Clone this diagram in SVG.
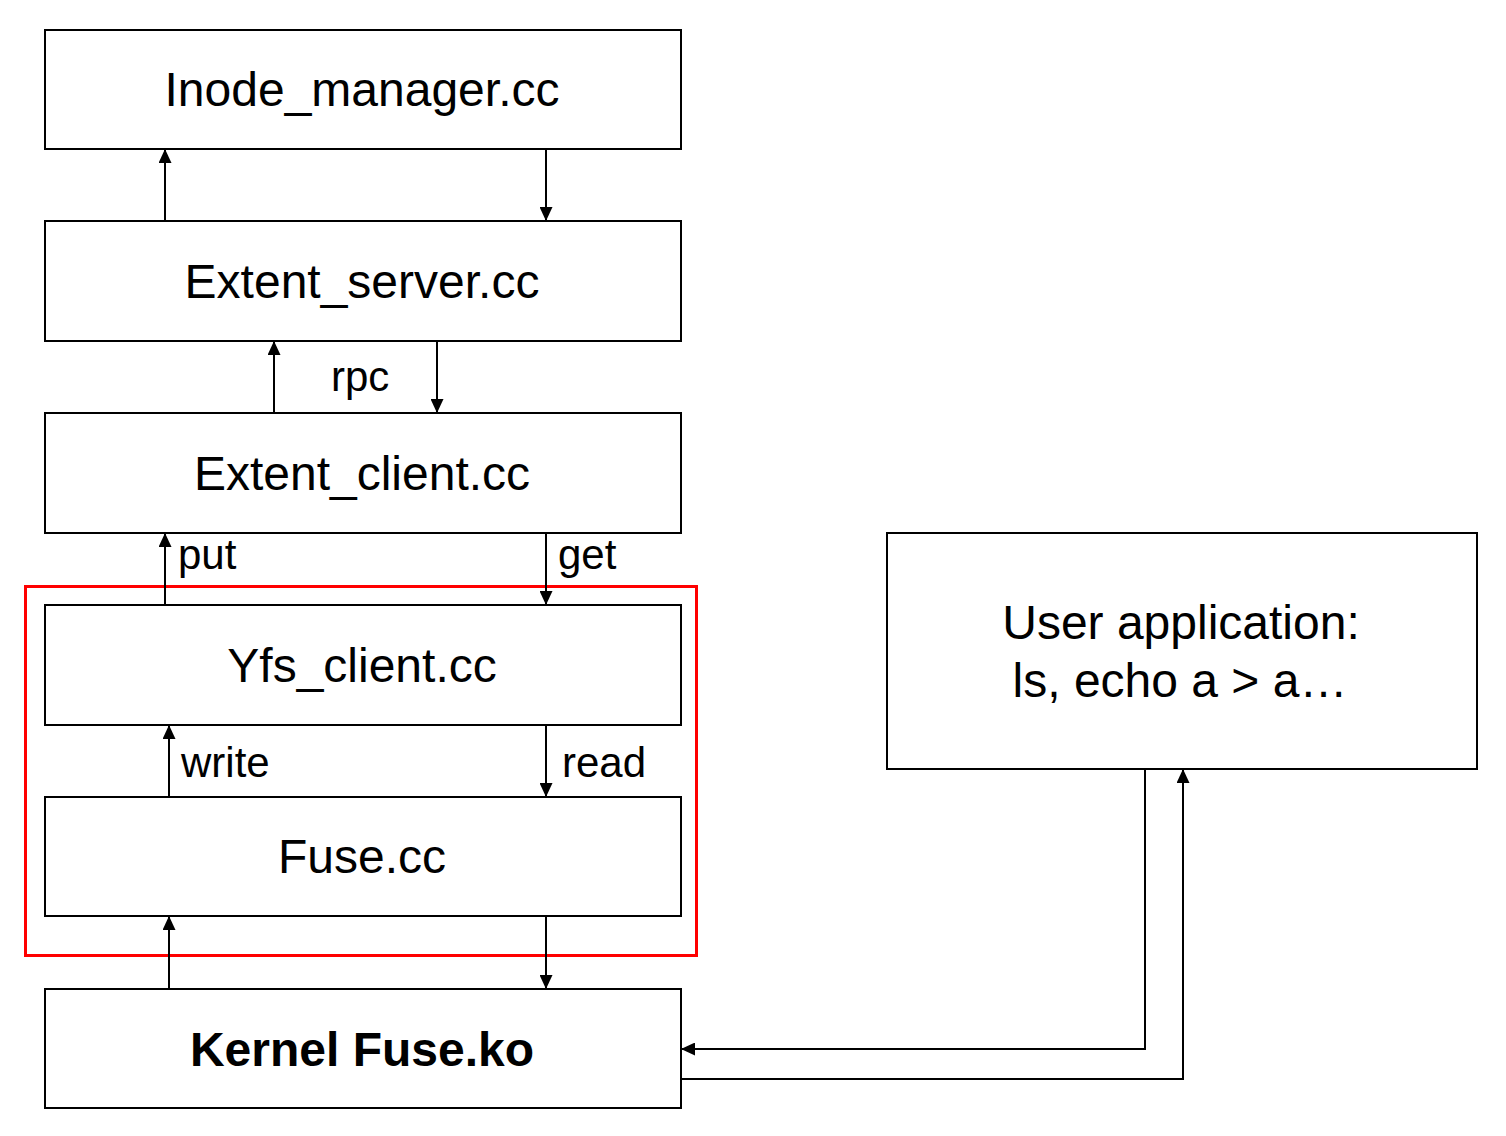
<svg xmlns="http://www.w3.org/2000/svg" width="1506" height="1136" viewBox="0 0 1506 1136">
<defs>
<marker id="arr" markerUnits="userSpaceOnUse" markerWidth="15" markerHeight="13" refX="14" refY="6.5" orient="auto">
<path d="M0,0 L14,6.5 L0,13 Z" fill="#000"/>
</marker>
<style>
.box{fill:#fff;stroke:#000;stroke-width:2}
.t{font-family:"Liberation Sans",Arial,sans-serif;font-size:48px;fill:#000;text-anchor:middle}
.b{font-weight:bold}
.lbl{font-family:"Liberation Sans",Arial,sans-serif;font-size:42px;fill:#000}
.c{fill:none;stroke:#000;stroke-width:2;marker-end:url(#arr)}
</style>
</defs>
<rect width="1506" height="1136" fill="#fff"/>
<g id="inode"><rect class="box" x="45" y="30" width="636" height="119"/><text class="t" x="362" y="106">Inode_manager.cc</text></g>
<g id="extent_server"><rect class="box" x="45" y="221" width="636" height="120"/><text class="t" x="362" y="298">Extent_server.cc</text></g>
<g id="extent_client"><rect class="box" x="45" y="413" width="636" height="120"/><text class="t" x="362" y="490">Extent_client.cc</text></g>
<g id="yfs_client"><rect class="box" x="45" y="605" width="636" height="120"/><text class="t" x="362" y="682">Yfs_client.cc</text></g>
<g id="fuse"><rect class="box" x="45" y="797" width="636" height="119"/><text class="t" x="362" y="873">Fuse.cc</text></g>
<g id="kernel"><rect class="box" x="45" y="989" width="636" height="119"/><text class="t b" x="362" y="1066">Kernel Fuse.ko</text></g>
<g id="user_app"><rect class="box" x="887" y="533" width="590" height="236"/><text class="t" x="1181" y="639">User application:</text><text class="t" x="1180" y="697">ls, echo a &gt; a…</text></g>
<g id="highlight"><rect x="25.5" y="586.5" width="671" height="369" fill="none" stroke="#f00" stroke-width="3"/></g>
<g id="connectors">
<path class="c" d="M165,221 V149"/>
<path class="c" d="M546,149 V221"/>
<path class="c" d="M274,413 V341"/>
<path class="c" d="M437,341 V413"/>
<path class="c" d="M165,605 V533"/>
<path class="c" d="M546,533 V605"/>
<path class="c" d="M169,797 V725"/>
<path class="c" d="M546,725 V797"/>
<path class="c" d="M169,989 V916"/>
<path class="c" d="M546,916 V989"/>
<path class="c" d="M1145,769 V1049 H681"/>
<path class="c" d="M681,1079 H1183 V769"/>
</g>
<g id="labels">
<text class="lbl" x="331" y="391">rpc</text>
<text class="lbl" x="178" y="569">put</text>
<text class="lbl" x="558" y="569">get</text>
<text class="lbl" x="181" y="777">write</text>
<text class="lbl" x="562" y="777">read</text>
</g>
</svg>
